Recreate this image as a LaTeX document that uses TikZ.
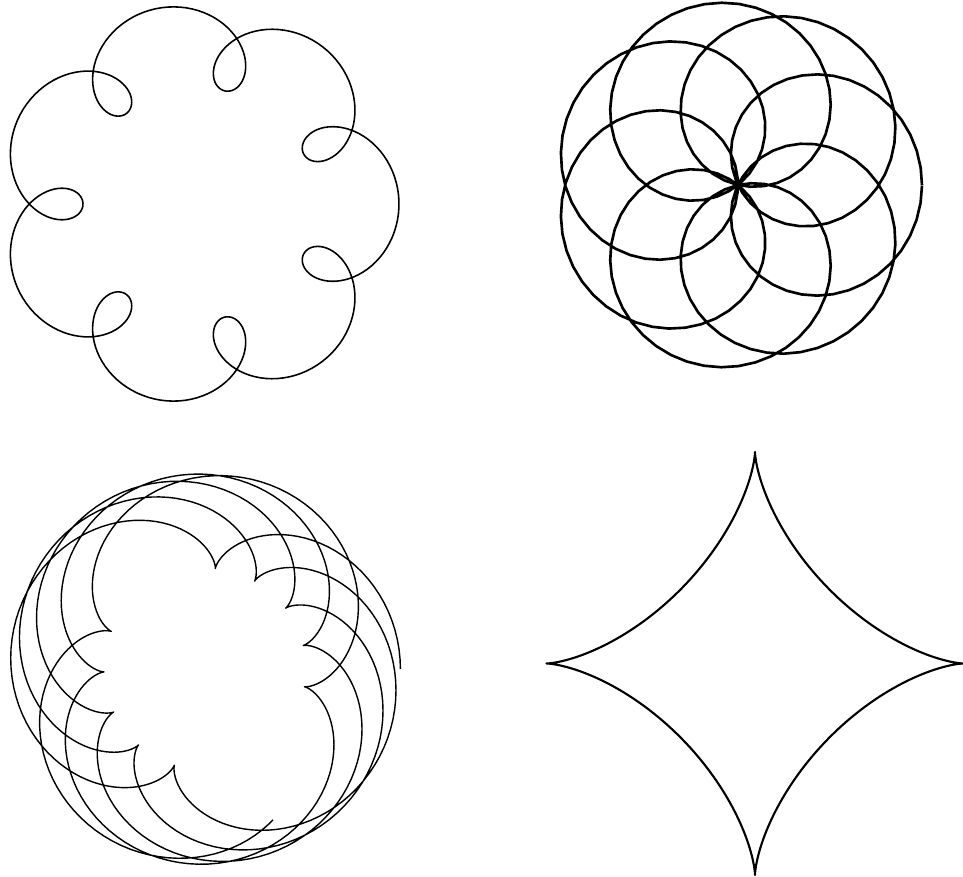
\documentclass[tikz,border=0pt]{standalone}
\usepackage{tikz}

\begin{document}
\begin{tikzpicture}[x=1cm, y=1cm,
    curve/.style={line width=0.45pt, line join=round, variable=\t}]
  \useasboundingbox (0,0) rectangle (9.63,8.77);
  \begin{scope}[shift={(1.99,6.73)}]
    \draw[curve, domain=0:2*pi, samples=500]
      plot ({-1.58*cos(\t r)+0.42*cos(8*\t r)}, {-1.58*sin(\t r)+0.42*sin(8*\t r)});
  \end{scope}
  \begin{scope}[shift={(7.38,6.92)}]
    \draw[curve, line width=0.75pt, domain=0:2*pi, samples=300]
      plot ({0.92*(cos(\t r)+cos(8*\t r))}, {0.92*(sin(\t r)+sin(8*\t r))});
  \end{scope}
  \begin{scope}[shift={(2.05,2.08)}]
    \draw[curve, line width=0.4pt, domain=0:30, samples=900]
      plot ({1.482*cos(\t r)+0.472*cos(3.14*\t r)}, {1.482*sin(\t r)+0.472*sin(3.14*\t r)});
  \end{scope}
  \begin{scope}[shift={(7.55,2.135)}]
    \draw[curve, line width=0.6pt, domain=0:2*pi, samples=400]
      plot ({2.085*cos(\t r)^3}, {2.115*sin(\t r)^3});
  \end{scope}
\end{tikzpicture}
\end{document}
